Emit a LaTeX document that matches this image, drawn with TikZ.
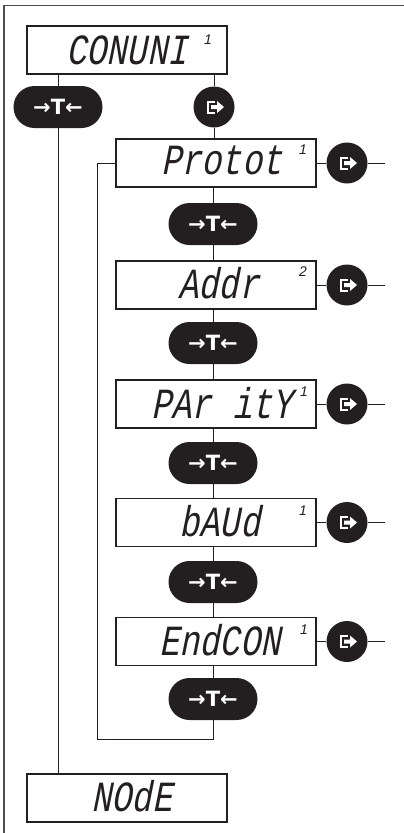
\documentclass[tikz,border=0pt]{standalone}
\usepackage{fontspec}
\newfontfamily\lcdfont[FakeSlant=0.2,FakeStretch=0.78]{Liberation Mono}
\newfontfamily\supfont{Liberation Sans}
\newfontfamily\symfont{DejaVu Sans}
\definecolor{ink}{HTML}{231F20}
\begin{document}
\begin{tikzpicture}[x=1pt,y=-1pt,
  disp/.style={draw=ink, line width=1.2pt, minimum width=200pt, minimum height=48pt, inner sep=0pt},
  dispmain/.style={disp, line width=2pt},
  lcd/.style={anchor=base, inner sep=0pt, font=\lcdfont\fontsize{43}{43}\selectfont, text=ink},
  sup/.style={inner sep=0pt, font=\supfont\itshape\fontsize{14}{14}\selectfont, text=ink},
  btn/.style={fill=ink, rounded corners=21pt, minimum width=89pt, minimum height=42pt, inner sep=0pt,
     text=white, font=\symfont\bfseries\fontsize{21}{21}\selectfont},
  circ/.style={circle, fill=ink, minimum size=41pt, inner sep=0pt},
  conn/.style={draw=ink, line width=1pt},
  frame/.style={draw=black!70, line width=1.6pt}
]
\useasboundingbox (0,0) rectangle (404,833);
% frame
\coordinate (fl) at (4,833);
\coordinate (ftl) at (4,5.5);
\coordinate (ftr) at (404,5.5);
\draw[frame] (fl) -- (ftl) -- (ftr);

% top and bottom displays
\node[dispmain] (conuni) at (127,50) {};
\node[lcd] (tconuni) at (127,64) {CONUNI};
\node[sup] at (208,40) {1};
\node[dispmain] (mode) at (127,797.5) {};
\node[lcd] (tmode) at (132,811.5) {NOdE};

% top buttons
\node[btn] (b0) at (58,107) {→T←};
\node[circ] (c0) at (214,107) {};

% menu displays
\node[disp] (d1) at (216,163) {};
\node[lcd] at (222,174) {Protot};
\node[sup] at (303,150) {1};
\node[disp] (d2) at (216,285) {};
\node[lcd] at (219,298.5) {Addr};
\node[sup] at (303,272) {2};
\node[disp] (d3) at (216,404) {};
\node[lcd] at (222,418) {PAr itY};
\node[sup] at (304,392) {1};
\node[disp] (d4) at (216,522.5) {};
\node[lcd] at (220,536.5) {bAUd};
\node[sup] at (303,511) {1};
\node[disp] (d5) at (216,641.5) {};
\node[lcd] at (220,655.5) {EndCON};
\node[sup] at (304,630) {1};

% buttons in the column
\node[btn] (b1) at (213,224) {→T←};
\node[btn] (b2) at (213,343) {→T←};
\node[btn] (b3) at (213,463) {→T←};
\node[btn] (b4) at (213,582) {→T←};
\node[btn] (b5) at (213,699) {→T←};

% right circles
\foreach \i/\y in {1/163,2/285,3/404,4/522.5,5/641.5}{
  \node[circ] (c\i) at (347,\y) {};
  \coordinate (e\i) at (385,\y);
}

% connectors
\draw[conn] (conuni.south -| b0) -- (b0.north);
\draw[conn] (b0.south) -- (mode.north -| b0);
\draw[conn] (conuni.south -| c0) -- (c0.north);
\draw[conn] (c0.south) -- (d1.north -| c0);
\draw[conn] (d1.south -| b1) -- (b1.north);
\draw[conn] (b1.south) -- (d2.north -| b1);
\draw[conn] (d2.south -| b2) -- (b2.north);
\draw[conn] (b2.south) -- (d3.north -| b2);
\draw[conn] (d3.south -| b3) -- (b3.north);
\draw[conn] (b3.south) -- (d4.north -| b3);
\draw[conn] (d4.south -| b4) -- (b4.north);
\draw[conn] (b4.south) -- (d5.north -| b4);
\draw[conn] (d5.south -| b5) -- (b5.north);
\coordinate (lp1) at (97,163);
\coordinate (lp2) at (97,739);
\coordinate (lp3) at (213,739);
\draw[conn] (d1.west) -- (lp1) -- (lp2) -- (lp3) -- (b5.south);
\foreach \i in {1,...,5}{
  \draw[conn] (d\i.east) -- (c\i.west);
  \draw[conn] (c\i.east) -- (e\i);
}

% exit icons in circles
\foreach \i in {0,...,5}{
  \begin{scope}[shift={(c\i.center)}]
    \draw[white, line width=2pt] (1,-5.5) -- (-6.5,-5.5) -- (-6.5,5.5) -- (1,5.5);
    \fill[white] (-3,-2) -- (3,-2) -- (3,-6) -- (10,0) -- (3,6) -- (3,2) -- (-3,2) -- cycle;
  \end{scope}
}
\end{tikzpicture}
\end{document}
